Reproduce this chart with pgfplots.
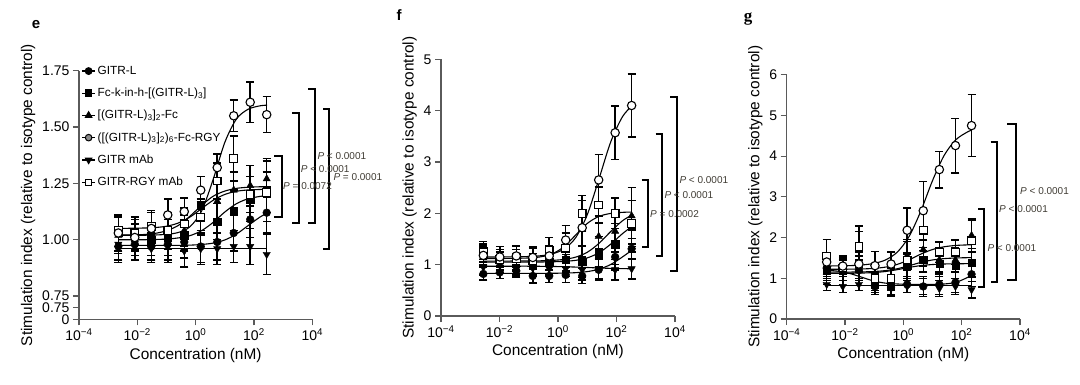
\documentclass[border=0pt]{standalone}
\usepackage{fontspec}
\setmainfont{Liberation Sans}
\newfontfamily\serif{Liberation Serif}
\usepackage{pgfplots}
\usepackage{pgfplotstable}
\pgfplotsset{compat=1.18}
\definecolor{pcol}{RGB}{64,60,52}
\definecolor{axc}{RGB}{90,90,90}

% ---------------- panel e ----------------
\pgfplotstableread{
x y1 e1 y2 e2 y3 e3 y4 e4 y5 e5 y6 e6
-2.652 0.97 0.07 1.03 0.08 1.02 0.08 1.03 0.08 0.98 0.07 1.04 0.07
-2.087 0.98 0.07 1.02 0.07 1.00 0.07 1.01 0.06 0.97 0.06 1.03 0.07
-1.521 0.97 0.06 1.00 0.07 0.98 0.07 1.05 0.07 0.96 0.06 1.06 0.07
-0.956 0.98 0.07 1.01 0.08 1.01 0.08 1.11 0.07 0.97 0.07 1.04 0.08
-0.390 0.99 0.07 1.02 0.07 1.04 0.07 1.125 0.06 0.95 0.07 1.07 0.07
0.175 0.97 0.07 1.15 0.07 1.10 0.07 1.22 0.06 0.96 0.07 1.10 0.08
0.740 0.99 0.08 1.08 0.08 1.17 0.08 1.32 0.06 0.96 0.07 1.26 0.08
1.306 1.03 0.08 1.13 0.09 1.22 0.08 1.55 0.07 0.97 0.07 1.36 0.10
1.871 1.09 0.08 1.18 0.10 1.24 0.09 1.61 0.09 0.97 0.08 1.20 0.08
2.437 1.12 0.09 1.22 0.14 1.27 0.08 1.555 0.08 0.935 0.09 1.21 0.09
}\ptsE
\pgfplotstableread{
x c1 c2 c3 c4 c5 c6
-2.65 0.975 1.000 1.021 1.020 0.963 1.050
-2.2 0.975 1.000 1.021 1.020 0.963 1.051
-1.8 0.975 1.000 1.023 1.020 0.963 1.052
-1.4 0.975 1.001 1.028 1.021 0.963 1.054
-1.0 0.975 1.003 1.040 1.024 0.963 1.060
-0.6 0.975 1.008 1.063 1.032 0.963 1.074
-0.2 0.976 1.018 1.104 1.057 0.963 1.100
0.2 0.979 1.040 1.152 1.126 0.963 1.138
0.6 0.985 1.077 1.193 1.267 0.963 1.175
1.0 0.999 1.123 1.216 1.432 0.963 1.201
1.4 1.025 1.160 1.228 1.536 0.963 1.215
1.8 1.063 1.182 1.233 1.579 0.963 1.221
2.2 1.100 1.192 1.235 1.594 0.963 1.223
2.45 1.118 1.196 1.235 1.597 0.963 1.224
}\fitE

% ---------------- panel f ----------------
\pgfplotstableread{
x y1 e1 y2 e2 y3 e3 y4 e4 y5 e5 y6 e6
-2.553 0.82 0.12 1.20 0.20 1.15 0.20 1.18 0.20 0.95 0.15 1.25 0.20
-1.990 0.85 0.12 1.10 0.20 1.05 0.20 1.15 0.20 1.00 0.15 1.10 0.20
-1.426 0.88 0.12 1.15 0.20 1.10 0.20 1.17 0.20 0.95 0.15 1.12 0.25
-0.863 0.78 0.14 1.02 0.20 1.12 0.20 1.14 0.20 0.93 0.15 1.07 0.25
-0.300 0.78 0.13 1.05 0.25 1.10 0.20 1.17 0.20 0.92 0.15 1.28 0.25
0.264 0.80 0.15 1.10 0.25 1.13 0.25 1.48 0.28 0.92 0.15 1.32 0.30
0.827 0.78 0.15 1.05 0.30 1.70 0.55 1.72 0.35 0.90 0.20 2.00 0.35
1.391 0.90 0.20 1.25 0.30 1.55 0.40 2.65 0.50 0.92 0.20 2.16 0.35
1.954 1.15 0.25 1.40 0.40 1.65 0.40 3.57 0.52 0.90 0.20 2.00 0.30
2.518 1.31 0.20 1.75 0.50 1.95 0.55 4.10 0.61 0.92 0.20 1.80 0.45
}\ptsF
\pgfplotstableread{
x c1 c2 c3 c4 c5 c6
-2.55 0.830 1.050 1.070 1.150 0.970 1.120
-2.2 0.830 1.050 1.070 1.150 0.970 1.120
-1.8 0.830 1.050 1.070 1.151 0.970 1.121
-1.4 0.830 1.050 1.071 1.153 0.970 1.124
-1.0 0.830 1.051 1.072 1.159 0.970 1.131
-0.6 0.831 1.052 1.075 1.173 0.968 1.152
-0.2 0.832 1.056 1.083 1.210 0.965 1.210
0.2 0.836 1.064 1.102 1.303 0.960 1.347
0.6 0.844 1.084 1.146 1.522 0.953 1.575
1.0 0.865 1.132 1.241 1.972 0.945 1.803
1.4 0.911 1.231 1.414 2.668 0.935 1.940
1.8 1.003 1.398 1.644 3.387 0.928 1.998
2.2 1.149 1.602 1.853 3.878 0.923 2.019
2.52 1.279 1.741 1.965 4.089 0.920 2.025
}\fitF

% ---------------- panel g ----------------
\pgfplotstableread{
x y1 e1 y2 e2 y3 e3 y4 e4 y5 e5 y6 e6
-2.629 1.25 0.20 1.20 0.25 1.15 0.30 1.40 0.15 0.85 0.15 1.55 0.40
-2.077 1.25 0.20 1.20 0.25 1.20 0.25 1.30 0.20 0.80 0.15 1.25 0.30
-1.525 1.20 0.25 1.75 0.40 1.30 0.35 1.35 0.20 0.85 0.15 1.78 0.50
-0.973 0.80 0.20 0.85 0.25 0.90 0.25 1.31 0.35 0.80 0.15 1.00 0.30
-0.421 0.78 0.20 0.80 0.25 1.00 0.25 1.35 0.30 0.75 0.15 1.00 0.30
0.131 0.85 0.20 1.30 0.30 1.55 0.35 2.18 0.55 0.80 0.15 1.45 0.50
0.683 0.80 0.25 1.45 0.30 1.70 0.40 2.66 0.72 0.80 0.20 2.18 0.50
1.235 0.85 0.25 1.35 0.30 1.45 0.30 3.67 0.45 0.75 0.20 1.64 0.25
1.787 0.90 0.25 1.30 0.30 1.45 0.30 4.26 0.67 0.80 0.20 1.64 0.30
2.339 1.10 0.30 1.38 0.35 2.05 0.40 4.75 0.76 0.72 0.20 1.92 0.50
}\ptsG
\pgfplotstableread{
x c1 c2 c3 c4 c5 c6
-2.63 1.20 1.121 1.150 1.302 0.83 1.221
-2.2 1.17 1.122 1.151 1.305 0.83 1.222
-1.8 1.11 1.124 1.153 1.312 0.83 1.224
-1.4 1.02 1.129 1.157 1.328 0.83 1.230
-1.0 0.93 1.142 1.167 1.366 0.83 1.243
-0.6 0.88 1.168 1.190 1.454 0.83 1.276
-0.2 0.86 1.213 1.236 1.648 0.83 1.343
0.2 0.85 1.267 1.309 2.031 0.83 1.456
0.6 0.85 1.312 1.390 2.652 0.83 1.594
1.0 0.85 1.338 1.450 3.398 0.83 1.707
1.4 0.86 1.351 1.483 4.019 0.83 1.774
1.8 0.90 1.356 1.499 4.402 0.83 1.807
2.2 1.02 1.359 1.506 4.595 0.83 1.820
2.34 1.09 1.359 1.507 4.636 0.83 1.823
}\fitG

\pgfplotsset{
  panel/.style={
    scale only axis, clip=false,
    axis x line*=bottom, axis y line*=left,
    xmin=-4, xmax=4, xtick={-4,-2,0,2,4},
    xticklabels={10\textsuperscript{−4},10\textsuperscript{−2},10\textsuperscript{0},10\textsuperscript{2},10\textsuperscript{4}},
    tick align=outside, major tick length=6pt,
    axis line style={axc, line width=1.2pt},
    tick style={axc, line width=1.2pt},
    tick label style={font=\fontsize{14}{16}\selectfont},
    label style={font=\fontsize{15.4}{17}\selectfont},
    xlabel={Concentration (nM)},
    ylabel={Stimulation index (relative to isotype control)},
  },
  m1/.style={mark=*, mark size=3.9pt, mark options={fill=black, draw=black}},
  m2/.style={mark=square*, mark size=3.6pt, mark options={fill=black, draw=black}},
  m3/.style={mark=triangle*, mark size=4.2pt, mark options={fill=black, draw=black}},
  m4/.style={mark=*, mark size=4.2pt, mark options={fill=white, draw=black, line width=1.1pt}},
  m5/.style={mark=triangle*, mark size=4.2pt, mark options={fill=black, draw=black, rotate=180}},
  m6/.style={mark=square*, mark size=3.8pt, mark options={fill=white, draw=black, line width=1.1pt}},
  ebar/.style={only marks, black, forget plot,
    error bars/y dir=both, error bars/y explicit,
    error bars/error bar style={line width=1.5pt, black},
    error bars/error mark options={rotate=90, line width=1.5pt, mark size=4pt, black}},
  fitc/.style={black, line width=1.1pt, smooth, no marks, forget plot},
}

\newcommand\brk[4]{\draw[line width=1.8pt, line join=miter] (#1pt,{(384-#3)*1pt}) -- (#2pt,{(384-#3)*1pt}) -- (#2pt,{(384-#4)*1pt}) -- (#1pt,{(384-#4)*1pt});}
\newcommand\pv[3]{\node[anchor=west, inner sep=0pt, text=pcol, font=\fontsize{10}{10}\selectfont] at (#1pt,{(384-#2)*1pt}) {#3};}

\begin{document}
\begin{tikzpicture}
\path[use as bounding box] (0pt,0pt) rectangle (1080pt,384pt);

% ---------- e ----------
\begin{axis}[panel, anchor=south west, at={(79pt,64.7pt)}, width=233.3pt, height=248.6pt,
  ymin=0.647, ymax=1.75,
  ytick={0.647,0.70,0.75,1,1.25,1.5,1.75},
  yticklabels={0,0.75,0.75,1.00,1.25,1.50,1.75},
  legend style={draw=none, fill=none, at={(0.01,1.027)}, anchor=north west,
    font=\fontsize{11.8}{13}\selectfont, row sep=8.2pt, inner sep=0pt},
  legend cell align=left,
  legend image code/.code={\draw[mark repeat=2,mark phase=2,#1] plot coordinates {(0pt,0pt) (6.5pt,0pt) (13pt,0pt)};},
]
\addlegendimage{m1, black, line width=1.2pt, mark size=3.3pt}
\addlegendentry{GITR-L}
\addlegendimage{m2, black, line width=1.2pt, mark size=3.1pt}
\addlegendentry{Fc-k-in-h-[(GITR-L)\textsubscript{3}]}
\addlegendimage{m3, black, line width=1.2pt, mark size=3.5pt}
\addlegendentry{[(GITR-L)\textsubscript{3}]\textsubscript{2}-Fc}
\addlegendimage{m4, black, line width=1.2pt, mark size=3.3pt, mark options={fill=black!45, draw=black, line width=1pt}}
\addlegendentry{([(GITR-L)\textsubscript{3}]\textsubscript{2})\textsubscript{6}-Fc-RGY}
\addlegendimage{m5, black, line width=1.2pt, mark size=3.5pt}
\addlegendentry{GITR mAb}
\addlegendimage{m6, black, line width=1.2pt, mark size=3.1pt}
\addlegendentry{GITR-RGY mAb}
\addplot[fitc] table[x=x, y=c1] {\fitE};
\addplot[fitc] table[x=x, y=c2] {\fitE};
\addplot[fitc] table[x=x, y=c3] {\fitE};
\addplot[fitc] table[x=x, y=c4] {\fitE};
\addplot[fitc] table[x=x, y=c5] {\fitE};
\addplot[fitc] table[x=x, y=c6] {\fitE};
\addplot[m5, ebar] table[x=x, y=y5, y error=e5] {\ptsE};
\addplot[m1, ebar] table[x=x, y=y1, y error=e1] {\ptsE};
\addplot[m3, ebar] table[x=x, y=y3, y error=e3] {\ptsE};
\addplot[m2, ebar] table[x=x, y=y2, y error=e2] {\ptsE};
\addplot[m6, ebar] table[x=x, y=y6, y error=e6] {\ptsE};
\addplot[m4, ebar] table[x=x, y=y4, y error=e4] {\ptsE};
\end{axis}

% ---------- f ----------
\begin{axis}[panel, anchor=south west, at={(441pt,68pt)}, width=234pt, height=256.7pt,
  ymin=0, ymax=5, ytick={0,1,2,3,4,5}, yticklabels={0,1,2,3,4,5}]
\addplot[fitc] table[x=x, y=c1] {\fitF};
\addplot[fitc] table[x=x, y=c2] {\fitF};
\addplot[fitc] table[x=x, y=c3] {\fitF};
\addplot[fitc] table[x=x, y=c4] {\fitF};
\addplot[fitc] table[x=x, y=c5] {\fitF};
\addplot[fitc] table[x=x, y=c6] {\fitF};
\addplot[m5, ebar] table[x=x, y=y5, y error=e5] {\ptsF};
\addplot[m1, ebar] table[x=x, y=y1, y error=e1] {\ptsF};
\addplot[m3, ebar] table[x=x, y=y3, y error=e3] {\ptsF};
\addplot[m2, ebar] table[x=x, y=y2, y error=e2] {\ptsF};
\addplot[m6, ebar] table[x=x, y=y6, y error=e6] {\ptsF};
\addplot[m4, ebar] table[x=x, y=y4, y error=e4] {\ptsF};
\end{axis}

% ---------- g ----------
\begin{axis}[panel, anchor=south west, at={(786.7pt,65pt)}, width=233.3pt, height=244.3pt,
  ymin=0, ymax=6, ytick={0,1,2,3,4,5,6}, yticklabels={0,1,2,3,4,5,6}]
\addplot[fitc] table[x=x, y=c1] {\fitG};
\addplot[fitc] table[x=x, y=c2] {\fitG};
\addplot[fitc] table[x=x, y=c3] {\fitG};
\addplot[fitc] table[x=x, y=c4] {\fitG};
\addplot[fitc] table[x=x, y=c5] {\fitG};
\addplot[fitc] table[x=x, y=c6] {\fitG};
\addplot[m5, ebar] table[x=x, y=y5, y error=e5] {\ptsG};
\addplot[m1, ebar] table[x=x, y=y1, y error=e1] {\ptsG};
\addplot[m3, ebar] table[x=x, y=y3, y error=e3] {\ptsG};
\addplot[m2, ebar] table[x=x, y=y2, y error=e2] {\ptsG};
\addplot[m6, ebar] table[x=x, y=y6, y error=e6] {\ptsG};
\addplot[m4, ebar] table[x=x, y=y4, y error=e4] {\ptsG};
\end{axis}

% panel letters
\node[font=\fontsize{15}{15}\selectfont\bfseries] at (36pt,359pt) {e};
\node[font=\fontsize{15}{15}\selectfont\bfseries] at (399pt,369pt) {f};
\node[font=\fontsize{17}{17}\selectfont\bfseries\serif] at (748pt,365pt) {g};

% significance brackets e
\brk{274.3}{281.7}{155.7}{216.7}
\brk{292.3}{299.3}{112.7}{223.3}
\brk{308.3}{315}{89.3}{223.3}
\brk{323.3}{329.3}{109.3}{249.3}
\pv{283}{186}{\textit{P} = 0.0072}
\pv{300.7}{169}{\textit{P} < 0.0001}
\pv{317.3}{156}{\textit{P} < 0.0001}
\pv{333.3}{177.3}{\textit{P} = 0.0001}
% f
\brk{641.7}{648.3}{180}{246.7}
\brk{655.7}{661.7}{134.3}{256}
\brk{670}{676.7}{96.7}{270.7}
\pv{650}{214}{\textit{P} = 0.0002}
\pv{664.3}{195.3}{\textit{P} < 0.0001}
\pv{679.3}{180}{\textit{P} < 0.0001}
% g
\brk{978.3}{984}{209}{286.7}
\brk{990.7}{996.7}{141.7}{282.3}
\brk{1007.3}{1015.7}{124}{280}
\pv{987.3}{247.7}{\textit{P} < 0.0001}
\pv{999}{209.3}{\textit{P} < 0.0001}
\pv{1020}{191}{\textit{P} < 0.0001}
\end{tikzpicture}
\end{document}
